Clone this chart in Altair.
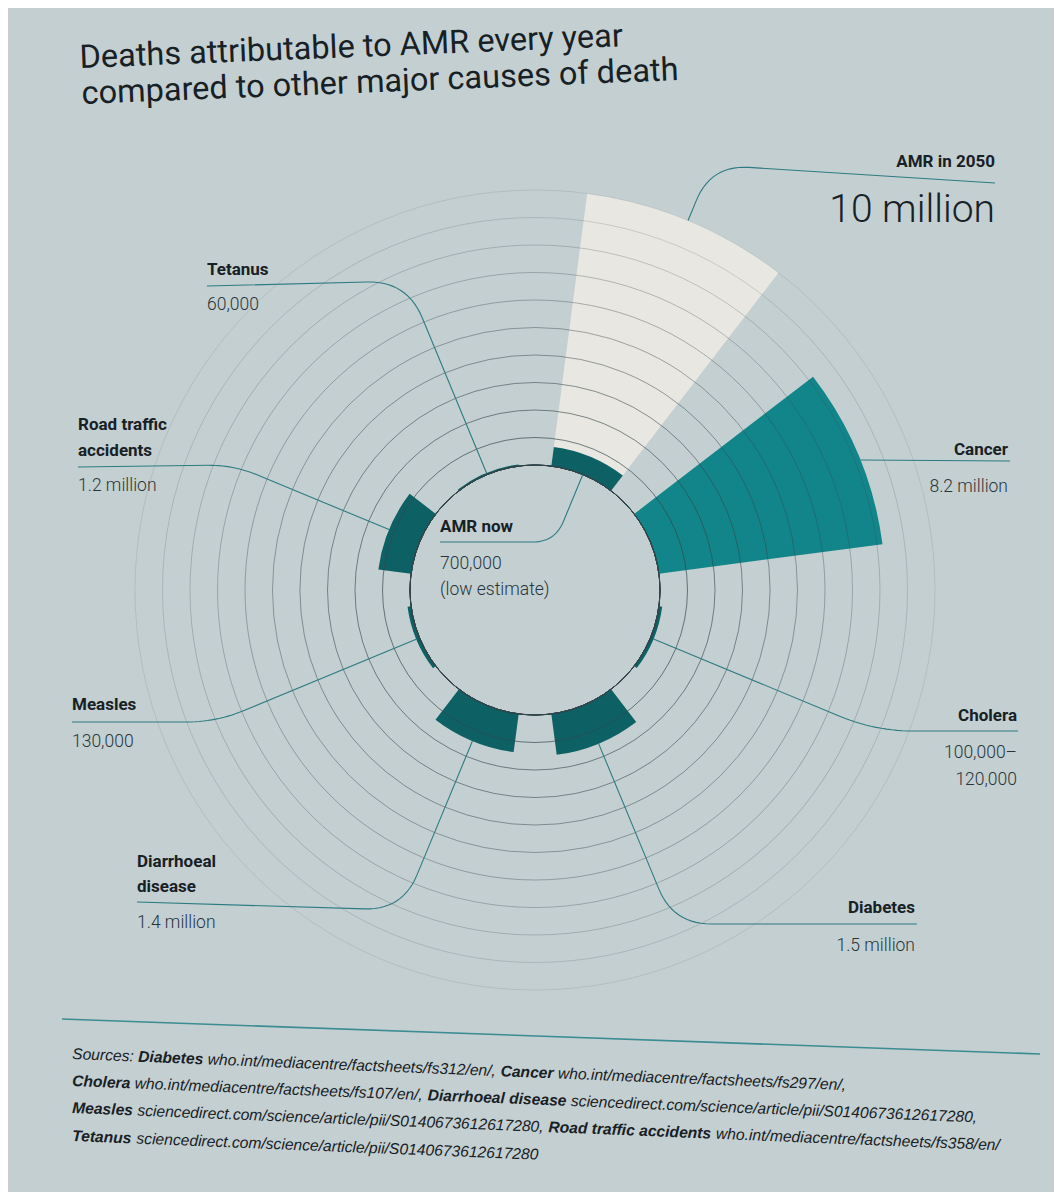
import math
import altair as alt
import pandas as pd

# ------------------------------------------------------------------ data
categories = ["AMR", "Cancer", "Cholera", "Diabetes", "Diarrhoeal disease",
              "Measles", "Road traffic accidents", "Tetanus"]
# deaths per year (AMR = projected value in 2050)
deaths = [10_000_000, 8_200_000, 120_000, 1_500_000, 1_400_000,
          130_000, 1_200_000, 60_000]
amr_now = 700_000
cholera_range = [100_000, 120_000]
grid_values = [0, 1_000_000, 2_000_000, 3_000_000, 4_000_000, 5_000_000,
               6_000_000, 7_000_000, 8_000_000, 9_000_000, 10_000_000]

title_lines = ["Deaths attributable to AMR every year",
               "compared to other major causes of death"]

label_names = {
    "AMR 2050": ["AMR in 2050"],
    "AMR now": ["AMR now"],
    "Cancer": ["Cancer"],
    "Cholera": ["Cholera"],
    "Diabetes": ["Diabetes"],
    "Diarrhoeal disease": ["Diarrhoeal", "disease"],
    "Measles": ["Measles"],
    "Road traffic accidents": ["Road traffic", "accidents"],
    "Tetanus": ["Tetanus"],
}
label_values = {
    "AMR 2050": ["10 million"],
    "AMR now": ["700,000", "(low estimate)"],
    "Cancer": ["8.2 million"],
    "Cholera": ["100,000\u2013", "120,000"],
    "Diabetes": ["1.5 million"],
    "Diarrhoeal disease": ["1.4 million"],
    "Measles": ["130,000"],
    "Road traffic accidents": ["1.2 million"],
    "Tetanus": ["60,000"],
}

source_texts = [
    [("Sources:", False), ("Diabetes", True),
     ("who.int/mediacentre/factsheets/fs312/en/,", False), ("Cancer", True),
     ("who.int/mediacentre/factsheets/fs297/en/,", False)],
    [("Cholera", True), ("who.int/mediacentre/factsheets/fs107/en/,", False),
     ("Diarrhoeal disease", True),
     ("sciencedirect.com/science/article/pii/S0140673612617280,", False)],
    [("Measles", True),
     ("sciencedirect.com/science/article/pii/S0140673612617280,", False),
     ("Road traffic accidents", True),
     ("who.int/mediacentre/factsheets/fs358/en/", False)],
    [("Tetanus", True),
     ("sciencedirect.com/science/article/pii/S0140673612617280", False)],
]

# ------------------------------------------------------------------ layout
W, H = 1046, 1184
XS = alt.Scale(domain=[8, 1054], range=[0, W], nice=False, zero=False)
YS = alt.Scale(domain=[8, 1192], range=[0, H], nice=False, zero=False)
CX, CY = 535, 590            # centre of the radial chart (page px)
R_IN, R_OUT = 125, 400        # radius of 0 and of 10 million
V_MAX = 10_000_000
RSCALE = alt.Scale(type="linear", domain=[0, V_MAX], range=[R_IN, R_OUT],
                   zero=False, nice=False)
TSCALE = alt.Scale(domain=[0, 360], range=[0, 2 * math.pi])
SLOT = 360 / len(categories)
BAR = 30

TEAL = "#0d6165"
TEAL_BRIGHT = "#12858a"
LIGHT = "#e8e7e2"
BG = "#c4cfd1"
LINE = "#2c7b82"
INK = "#172125"
INK2 = "#27353a"


def R(v):
    return R_IN + (R_OUT - R_IN) * v / V_MAX


start = {c: i * SLOT + (SLOT - BAR) / 2 for i, c in enumerate(categories)}
centre = {c: start[c] + BAR / 2 for c in categories}

# ------------------------------------------------------------------ arcs
bar_rows = []
for c, v in zip(categories, deaths):
    if c == "AMR":
        bar_rows.append(dict(cat="AMR 2050", s=start[c], e=start[c] + BAR,
                             v0=0, v1=v, fill=LIGHT, o=0))
        bar_rows.append(dict(cat="AMR now", s=start[c], e=start[c] + BAR,
                             v0=0, v1=amr_now, fill=TEAL, o=1))
    else:
        bar_rows.append(dict(cat=c, s=start[c], e=start[c] + BAR, v0=0, v1=v,
                             fill=TEAL_BRIGHT if c == "Cancer" else TEAL, o=1))
bars_df = pd.DataFrame(bar_rows)

arc_xy = dict(x=alt.value(CX - 8), y=alt.value(CY - 8))

bars = alt.Chart(bars_df).mark_arc().encode(
    theta=alt.Theta("s:Q", scale=TSCALE, stack=False),
    theta2="e:Q",
    radius=alt.Radius("v1:Q", scale=RSCALE, stack=False),
    radius2="v0:Q",
    fill=alt.Fill("fill:N", scale=None),
    order=alt.Order("o:Q"),
    **arc_xy,
)

grid_df = pd.DataFrame({"r": grid_values})
grid_df["op"] = [0.82 - 0.068 * k for k in range(len(grid_values))]
grid = alt.Chart(grid_df).mark_arc(filled=False, color="#33454b",
                                   strokeWidth=0.9, theta=0,
                                   theta2=2 * math.pi).encode(
    radius=alt.Radius("r:Q", scale=RSCALE, stack=False),
    strokeOpacity=alt.StrokeOpacity("op:Q", scale=None),
    **arc_xy,
)

# ------------------------------------------------------------------ leader lines
# key, category, value reached, inward?, y of elbow, far end x, far end y, corner
leader_layout = [
    ("AMR 2050", "AMR", deaths[0], False, 165, 995, 183, 38),
    ("AMR now", "AMR", 0, True, 542, 440, 542, 22),
    ("Cancer", "Cancer", deaths[1], False, 460, 1010, 461, 0),
    ("Cholera", "Cholera", deaths[2], False, 731, 1018, 731, 38),
    ("Diabetes", "Diabetes", deaths[3], False, 924, 917, 924, 38),
    ("Diarrhoeal disease", "Diarrhoeal disease", deaths[4], False, 910, 137, 902, 38),
    ("Measles", "Measles", deaths[5], False, 722, 72, 722, 30),
    ("Road traffic accidents", "Road traffic accidents", deaths[6], False, 465, 78, 467, 25),
    ("Tetanus", "Tetanus", deaths[7], False, 281, 207, 286, 40),
]


def unit(ax, ay, bx, by):
    dx, dy = bx - ax, by - ay
    n = math.hypot(dx, dy) or 1
    return dx / n, dy / n


line_rows = []
for key, cat, val, inward, y_near, x_far, y_far, d in leader_layout:
    th = math.radians(centre[cat])
    ux, uy = math.sin(th), -math.cos(th)
    r0 = R(0) if inward else R(val)
    t = (y_near - CY) / uy
    if not inward and t <= r0:
        sx = CX + math.copysign(math.sqrt(r0 ** 2 - (y_near - CY) ** 2), ux)
        pts = [(sx, y_near), (x_far, y_far)]
    else:
        S = (CX + r0 * ux, CY + r0 * uy)
        C = (CX + t * ux, CY + t * uy)
        v1 = unit(*S, *C)
        v2 = unit(*C, x_far, y_far)
        P1 = (C[0] - d * v1[0], C[1] - d * v1[1])
        P2 = (C[0] + d * v2[0], C[1] + d * v2[1])
        pts = [S]
        n = 14
        for k in range(n + 1):
            s = k / n
            pts.append(((1 - s) ** 2 * P1[0] + 2 * (1 - s) * s * C[0] + s ** 2 * P2[0],
                        (1 - s) ** 2 * P1[1] + 2 * (1 - s) * s * C[1] + s ** 2 * P2[1]))
        pts.append((x_far, y_far))
    for i, (px, py) in enumerate(pts):
        line_rows.append(dict(key=key, i=i, x=px, y=py))

# sources rule
line_rows += [dict(key="rule", i=0, x=62, y=1019), dict(key="rule", i=1, x=1040, y=1054)]
lines_df = pd.DataFrame(line_rows)

leaders = alt.Chart(lines_df).mark_line().encode(
    x=alt.X("x:Q", scale=XS, axis=None),
    y=alt.Y("y:Q", scale=YS, axis=None),
    detail="key:N",
    order="i:Q",
    color=alt.condition(alt.datum.key == "rule", alt.value("#3b8c93"), alt.value(LINE)),
    strokeWidth=alt.condition(alt.datum.key == "rule", alt.value(1.6), alt.value(1.1)),
)

# ------------------------------------------------------------------ text
# key: (align, x, baselines of name lines, baselines of value lines)
label_pos = {
    "AMR 2050": ("right", 995, [167], [222]),
    "AMR now": ("left", 440, [532], [569, 595]),
    "Cancer": ("right", 1008, [455], [492]),
    "Cholera": ("right", 1017, [721], [758, 785]),
    "Diabetes": ("right", 915, [913], [951]),
    "Diarrhoeal disease": ("left", 137, [867, 892], [928]),
    "Measles": ("left", 72, [710], [747]),
    "Road traffic accidents": ("left", 78, [430, 456], [491]),
    "Tetanus": ("left", 207, [275], [310]),
}

name_rows, value_rows = [], []
for key, (al, x, ny, vy) in label_pos.items():
    for t, y in zip(label_names[key], ny):
        name_rows.append(dict(t=t, x=x, y=y, al=al))
    for t, y in zip(label_values[key], vy):
        value_rows.append(dict(t=t, x=x, y=y, al=al, big=(key == "AMR 2050")))
names_df = pd.DataFrame(name_rows)
values_df = pd.DataFrame(value_rows)


def text_layer(df, **kw):
    return alt.Chart(df).mark_text(baseline="alphabetic", **kw).encode(
        x=alt.X("x:Q", scale=XS, axis=None),
        y=alt.Y("y:Q", scale=YS, axis=None),
        text="t:N",
    )


text_layers = []
for al in ["left", "right"]:
    text_layers.append(text_layer(names_df[names_df.al == al], align=al,
                                  font="Roboto", fontSize=17, fontWeight=700,
                                  color=INK))
    sub = values_df[(values_df.al == al) & (~values_df.big)]
    text_layers.append(text_layer(sub, align=al, font="Roboto", fontSize=17.5,
                                  fontWeight=300, color=INK2))
text_layers.append(text_layer(values_df[values_df.big], align="right",
                              font="Roboto", fontSize=39, fontWeight=300,
                              color=INK))

# title (the photographed page is slightly keystoned)
title_df = pd.DataFrame({"t": title_lines, "x": [80, 82], "y": [68, 104]})
text_layers.append(text_layer(title_df, align="left", font="Roboto",
                              fontSize=32.5, fontWeight=400, color=INK,
                              angle=357.7))

# sources: flow bold/regular runs using Liberation Sans (Arial-metric) widths
REG = dict(zip("abcdefghijklmnopqrstuvwxyz",
               [556, 556, 500, 556, 556, 278, 556, 556, 222, 222, 500, 222, 833,
                556, 556, 556, 556, 333, 500, 278, 556, 500, 722, 500, 500, 500]))
BLD = dict(zip("abcdefghijklmnopqrstuvwxyz",
               [556, 611, 556, 611, 556, 333, 611, 611, 278, 278, 556, 278, 889,
                611, 611, 611, 611, 389, 556, 333, 611, 556, 778, 556, 556, 500]))
COMMON = {" ": 278, ",": 278, ".": 278, "/": 278, ":": 278, "-": 333,
          "C": 722, "D": 722, "M": 833, "R": 722, "S": 667, "T": 611}
for dg in "0123456789":
    COMMON[dg] = 556


def run_width(t, bold):
    tab = BLD if bold else REG
    return sum(tab.get(ch, COMMON.get(ch, 556)) for ch in t) / 1000.0


def line_width(line):
    return sum(run_width(t, b) for t, b in line) + 0.278 * (len(line) - 1)


SRC_X0 = 72
SRC_SIZE = 928 / line_width(source_texts[2])     # longest line spans 72..1000
src_base = [1059, 1086, 1113, 1141]
slope = math.tan(math.radians(2.3))
src_rows = []
for line, b in zip(source_texts, src_base):
    x = SRC_X0
    for t, bold in line:
        src_rows.append(dict(t=t, x=x, y=b + (x - SRC_X0) * slope, bold=bold))
        x += (run_width(t, bold) + 0.278) * SRC_SIZE
src_df = pd.DataFrame(src_rows)
for bold in [False, True]:
    text_layers.append(text_layer(src_df[src_df.bold == bold], align="left",
                                  font="Liberation Sans",
                                  fontSize=SRC_SIZE, fontStyle="italic",
                                  fontWeight=700 if bold else 400,
                                  color=INK, angle=2.3))

chart = alt.layer(bars, grid, leaders, *text_layers).properties(
    width=W, height=H, background=BG, padding=0,
    autosize=alt.AutoSizeParams(type="none"),
).configure_view(stroke="transparent")

chart.save("out.html", embed_options={"renderer": "svg", "actions": False})
